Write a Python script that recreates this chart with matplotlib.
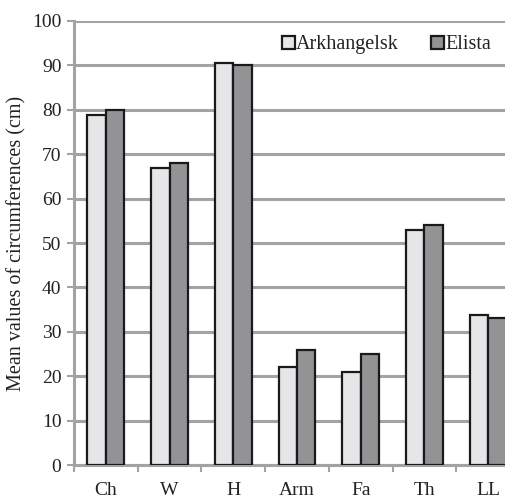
import numpy as np
import matplotlib
matplotlib.use('Agg')
import matplotlib.pyplot as plt

plt.rcParams['font.family'] = ['Liberation Serif', 'DejaVu Serif']

categories = ['Ch', 'W', 'H', 'Arm', 'Fa', 'Th', 'LL']
arkhangelsk = [78.8, 67, 90.5, 22, 21, 53, 33.8]
elista = [80, 68, 90, 26, 25, 54, 33]

fig = plt.figure(figsize=(5.05, 5.0), dpi=100)
# axes extend past the right edge, like the cropped original
ax = fig.add_axes([74 / 505, 35 / 500, 446 / 505, 444 / 500])

x = np.arange(len(categories)) + 0.5
w = 0.29
ax.bar(x - w / 2, arkhangelsk, w, color='#e6e6e8', edgecolor='#1a1a1a', linewidth=1.6,
       label='Arkhangelsk', zorder=3)
ax.bar(x + w / 2, elista, w, color='#939396', edgecolor='#1a1a1a', linewidth=1.6,
       label='Elista', zorder=3)

ax.set_xlim(0, 7)
ax.set_ylim(0, 100)
ax.set_yticks(range(0, 101, 10))
ax.yaxis.grid(True, color='#a3a3a3', linewidth=2.2, zorder=0)
ax.set_axisbelow(True)

ax.set_xticks(np.arange(0, 8))
ax.set_xticklabels([])
ax.set_xticks(x, minor=True)
ax.set_xticklabels(categories, minor=True, fontsize=14, color='#222222')
ax.tick_params(axis='x', which='minor', length=0, pad=12)
ax.tick_params(axis='x', which='major', length=5, width=1.5, color='#a3a3a3')
ax.tick_params(axis='y', length=5, width=1.5, color='#a3a3a3', labelsize=14,
               labelcolor='#222222', pad=4)

for s in ['top', 'right']:
    ax.spines[s].set_visible(False)
ax.spines['left'].set_color('#a3a3a3')
ax.spines['left'].set_linewidth(2.2)
ax.spines['bottom'].set_color('#a3a3a3')
ax.spines['bottom'].set_linewidth(2.2)

ax.set_ylabel('Mean values of circumferences (cm)', fontsize=14.5, labelpad=4,
              color='#222222')

leg = ax.legend(loc='center left', bbox_to_anchor=(0.466, 0.946), ncol=2, frameon=False,
                fontsize=14.5, handlelength=0.65, handleheight=0.65, handletextpad=0.05,
                columnspacing=1.6, borderaxespad=0, borderpad=0)
for t in leg.get_texts():
    t.set_color('#222222')

fig.savefig('out.png', dpi=100)
